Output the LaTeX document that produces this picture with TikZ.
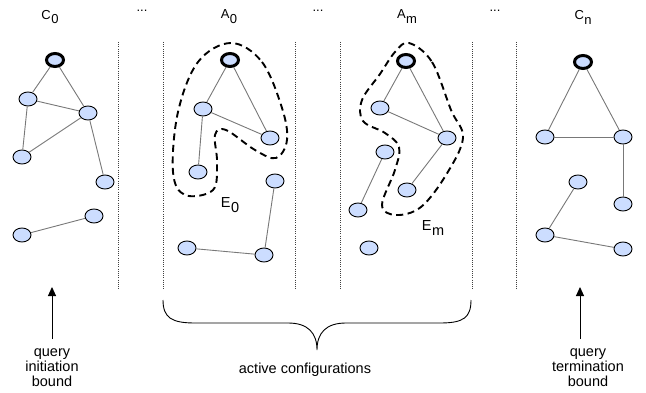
\documentclass[tikz,border=0pt]{standalone}
\usepackage{fontspec}
\setmainfont{Liberation Sans}
\usetikzlibrary{shapes.geometric,arrows.meta}
\definecolor{nodeblue}{RGB}{204,221,255}
\definecolor{edgegray}{RGB}{120,120,120}
\newcommand{\subl}[2]{#1\kern0.03em\raisebox{-0.38em}{#2}}
\begin{document}
\begin{tikzpicture}[x=1pt,y=-1pt,
  vert/.style={ellipse,draw=black,fill=nodeblue,line width=0.9pt,minimum width=18pt,minimum height=14pt,inner sep=0pt},
  rootv/.style={vert,line width=3pt,minimum width=17pt,minimum height=13pt},
  lnk/.style={draw=edgegray,line width=0.9pt},
  sep/.style={draw=black!75,line width=0.9pt,dash pattern=on 0.9pt off 1.3pt},
  hull/.style={draw=black,line width=1.9pt,dash pattern=on 7pt off 4.5pt},
  toplbl/.style={font=\fontsize{13}{15}\selectfont,inner sep=0pt},
  elbl/.style={font=\fontsize{14.5}{16}\selectfont,inner sep=0pt},
  bot/.style={font=\fontsize{14.5}{15}\selectfont,align=center,inner sep=0pt},
  arr/.style={-{Triangle[length=9pt,width=8pt]},line width=1pt,draw=black}]
\useasboundingbox (0,0) rectangle (646,393);

% separators
\foreach \x in {118,163,295,340,472,516}{
  \draw[sep] (\x,42) -- (\x,290);
}

% top labels
\node[toplbl] (lc0) at (50,17) {\subl{C}{0}};
\node[toplbl] (d1) at (142,11) {...};
\node[toplbl] (la0) at (229,17) {\subl{A}{0}};
\node[toplbl] (d2) at (318,11) {...};
\node[toplbl] (lam) at (407,17) {\subl{A}{m}};
\node[toplbl] (d3) at (495,11) {...};
\node[toplbl] (lcn) at (583,17) {\subl{C}{n}};

% C0
\node[rootv] (cr) at (55,60) {};
\node[vert] (c1) at (28,99) {};
\node[vert] (c2) at (88,113) {};
\node[vert] (c3) at (22,157) {};
\node[vert] (c4) at (105,182) {};
\node[vert] (c5) at (94,216) {};
\node[vert] (c6) at (22,235) {};
\draw[lnk] (cr) -- (c1);
\draw[lnk] (cr) -- (c2);
\draw[lnk] (c1) -- (c2);
\draw[lnk] (c1) -- (c3);
\draw[lnk] (c2) -- (c3);
\draw[lnk] (c2) -- (c4);
\draw[lnk] (c5) -- (c6);

% A0
\draw[hull] plot[smooth cycle,tension=0.6] coordinates {(231,43) (262,62) (282,108) (287,140) (276,158) (255,150) (226,130) (215,135) (217,162) (213,190) (185,195) (173,172) (178,112) (198,62)};
\node[rootv] (ar) at (230,60) {};
\node[vert] (a1) at (203,109) {};
\node[vert] (a2) at (270,138) {};
\node[vert] (a3) at (198,172) {};
\node[vert] (a4) at (275,181) {};
\node[vert] (a5) at (187,248) {};
\node[vert] (a6) at (264,255) {};
\draw[lnk] (ar) -- (a1);
\draw[lnk] (ar) -- (a2);
\draw[lnk] (a1) -- (a2);
\draw[lnk] (a1) -- (a3);
\draw[lnk] (a4) -- (a6);
\draw[lnk] (a5) -- (a6);
\node[elbl] (e0) at (230,205) {\subl{E}{0}};

% Am
\draw[hull] plot[smooth cycle,tension=0.6] coordinates {(409,43) (432,62) (451,110) (463,138) (446,175) (421,207) (396,215) (382,205) (395,170) (399,147) (385,133) (363,121) (362,100) (380,74) (395,52)};
\node[rootv] (br) at (406,61) {};
\node[vert] (b1) at (380,108) {};
\node[vert] (b2) at (447,138) {};
\node[vert] (b3) at (385,152) {};
\node[vert] (b4) at (407,190) {};
\node[vert] (b5) at (358,210) {};
\node[vert] (b6) at (369,248) {};
\draw[lnk] (br) -- (b1);
\draw[lnk] (br) -- (b2);
\draw[lnk] (b1) -- (b2);
\draw[lnk] (b2) -- (b4);
\draw[lnk] (b3) -- (b5);
\node[elbl] (em) at (433,228) {\subl{E}{m}};

% Cn
\node[rootv] (dr) at (583,62) {};
\node[vert] (d1n) at (545,137) {};
\node[vert] (d2n) at (623,137) {};
\node[vert] (d3n) at (578,182) {};
\node[vert] (d4n) at (623,204) {};
\node[vert] (d5n) at (545,235) {};
\node[vert] (d6n) at (623,249) {};
\draw[lnk] (dr) -- (d1n);
\draw[lnk] (dr) -- (d2n);
\draw[lnk] (d1n) -- (d2n);
\draw[lnk] (d2n) -- (d4n);
\draw[lnk] (d3n) -- (d5n);
\draw[lnk] (d5n) -- (d6n);

% bottom
\node[bot] (qi) at (52,368) {query\\initiation\\bound};
\coordinate (qia) at (52,339);
\coordinate (qib) at (52,287);
\draw[arr] (qia) -- (qib);

\node[bot] (qt) at (588,368) {query\\termination\\bound};
\coordinate (qta) at (580,339);
\coordinate (qtb) at (580,287);
\draw[arr] (qta) -- (qtb);

\coordinate (bl) at (163,300);
\coordinate (br2) at (471,300);
\coordinate (bt) at (317,350);
\draw[line width=0.9pt] (bl) .. controls (163,318) and (172,323) .. (195,323)
  -- (288,323) .. controls (308,323) and (317,333) .. (bt)
  .. controls (317,333) and (326,323) .. (346,323)
  -- (440,323) .. controls (463,323) and (471,318) .. (br2);
\node[bot] (ac) at (305,370) {active configurations};
\end{tikzpicture}
\end{document}
